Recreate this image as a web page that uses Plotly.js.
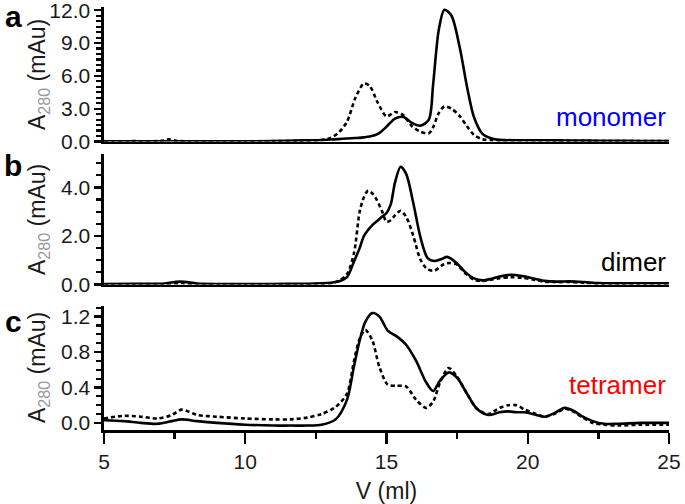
<!DOCTYPE html>
<html>
<head>
<meta charset="utf-8">
<script src="https://cdn.plot.ly/plotly-3.0.1.min.js"></script>
<style>html,body{margin:0;padding:0;background:#fff;}#chart{width:685px;height:504px;}</style>
</head>
<body>
<div id="chart"></div>
<script>
// ---------- data (V in ml, A280 in mAu) ----------
const vA = [5, 6, 7, 7.3, 7.6, 8, 9, 10, 11, 12, 12.5, 13, 13.3, 13.6, 13.9, 14.2, 14.4, 14.7, 15.0, 15.3, 15.6, 15.9, 16.2, 16.5, 16.65, 16.85, 17.05, 17.3, 17.6, 17.85, 18.1, 18.4, 18.7, 19, 20, 21, 22, 23, 24, 25];
const monomerSolid = [0.02, 0.02, 0.02, 0.03, 0.02, 0.02, 0.02, 0.02, 0.03, 0.1, 0.12, 0.18, 0.22, 0.27, 0.32, 0.38, 0.45, 0.7, 1.35, 2.1, 2.25, 1.7, 1.45, 2.0, 5.2, 10.2, 12.05, 11.5, 8.5, 5.0, 2.2, 0.7, 0.3, 0.15, 0.12, 0.1, 0.08, 0.06, 0.05, 0.05];
const monomerDotted = [0.02, 0.03, 0.05, 0.2, 0.05, 0.02, 0.02, 0.02, 0.03, 0.05, 0.1, 0.3, 0.8, 1.8, 4.0, 5.3, 5.1, 3.5, 2.3, 2.7, 2.4, 1.4, 0.9, 0.75, 1.3, 2.6, 3.2, 3.0, 2.3, 1.4, 0.6, 0.2, 0.12, 0.1, 0.1, 0.08, 0.06, 0.04, 0.03, 0.03];

const vB = [5, 6, 7, 7.7, 8.3, 9, 10, 11, 12, 12.5, 13, 13.3, 13.6, 13.85, 14.05, 14.2, 14.35, 14.5, 14.65, 14.85, 15.0, 15.15, 15.3, 15.5, 15.7, 15.95, 16.2, 16.45, 16.7, 16.95, 17.15, 17.45, 17.8, 18.1, 18.4, 18.7, 19.0, 19.4, 19.8, 20.2, 20.6, 21, 21.5, 22, 22.5, 23, 24, 25];
const dimerSolid = [0.02, 0.03, 0.03, 0.12, 0.04, 0.02, 0.02, 0.02, 0.03, 0.04, 0.07, 0.12, 0.3, 0.95, 1.5, 2.0, 2.25, 2.45, 2.6, 2.8, 2.95, 3.3, 4.2, 4.85, 4.55, 3.35, 1.95, 1.1, 0.97, 1.05, 1.14, 0.92, 0.5, 0.25, 0.17, 0.23, 0.33, 0.4, 0.35, 0.25, 0.15, 0.12, 0.13, 0.1, 0.06, 0.05, 0.05, 0.05];
const dimerDotted = [0.0, 0.0, 0.0, 0.05, 0.0, -0.01, -0.01, 0.0, 0.0, 0.02, 0.05, 0.15, 0.42, 1.3, 3.0, 3.6, 3.87, 3.75, 3.5, 3.0, 2.58, 2.65, 2.85, 3.04, 2.78, 2.0, 1.03, 0.63, 0.57, 0.78, 0.88, 0.85, 0.45, 0.2, 0.15, 0.2, 0.26, 0.3, 0.28, 0.2, 0.12, 0.1, 0.1, 0.07, 0.03, 0.0, -0.01, -0.01];

const vC = [5, 5.7, 6.3, 6.9, 7.4, 7.75, 8.3, 9, 10, 11, 11.6, 12.2, 12.7, 13.2, 13.6, 13.85, 14.05, 14.25, 14.5, 14.75, 15.05, 15.35, 15.7, 16.05, 16.4, 16.65, 16.9, 17.2, 17.5, 17.85, 18.2, 18.6, 19.0, 19.3, 19.6, 19.9, 20.3, 20.6, 21.0, 21.3, 21.6, 21.9, 22.3, 22.7, 23.2, 24, 25];
const tetramerSolid = [0.03, 0.02, 0.0, -0.01, 0.02, 0.04, 0.02, 0.0, -0.02, -0.03, -0.03, -0.03, -0.02, 0.04, 0.26, 0.64, 0.93, 1.14, 1.24, 1.2, 1.04, 0.98, 0.88, 0.7, 0.46, 0.36, 0.48, 0.57, 0.51, 0.33, 0.16, 0.09, 0.12, 0.13, 0.12, 0.12, 0.09, 0.07, 0.12, 0.17, 0.14, 0.08, 0.02, -0.01, -0.01, 0.0, 0.0];
const tetramerDotted = [0.05, 0.08, 0.07, 0.05, 0.09, 0.15, 0.09, 0.07, 0.05, 0.04, 0.04, 0.06, 0.1, 0.18, 0.33, 0.7, 0.95, 1.05, 0.93, 0.63, 0.43, 0.42, 0.41, 0.26, 0.17, 0.24, 0.46, 0.62, 0.52, 0.33, 0.16, 0.1, 0.17, 0.2, 0.2, 0.15, 0.1, 0.07, 0.11, 0.16, 0.13, 0.07, 0.0, -0.02, -0.03, -0.02, -0.02];

const panelLabels = ["a", "b", "c"];
const seriesNames = ["monomer", "dimer", "tetramer"];
const seriesColors = ["#0000ff", "#000000", "#ff0000"];
const xTickVals = [5, 10, 15, 20, 25];
const yTitle = 'A<sub><span style="color:#9a9a9a">280</span></sub> (mAu)';

// ---------- layout geometry ----------
const W = 685, H = 504;
const L = 104, R = 16;
const pw = W - L - R;
const fy = p => 1 - p / H;          // pixel row -> paper y
const fx = p => (p - L) / pw;       // pixel col -> paper x

const FONT = "Liberation Sans, Arial, sans-serif";
const INK = "#1a1a1a";

function line(x, y, dotted, xa, ya) {
  return {
    x: x, y: y, xaxis: xa, yaxis: ya, type: "scatter", mode: "lines",
    line: {color: "#000", width: 2.6, shape: "spline", smoothing: 0.8, dash: dotted ? "4px,3px" : "solid"},
    showlegend: false, hoverinfo: "skip"
  };
}

const traces = [
  line(vA, monomerDotted, true, "x", "y"),
  line(vA, monomerSolid, false, "x", "y"),
  line(vB, dimerDotted, true, "x2", "y2"),
  line(vB, dimerSolid, false, "x2", "y2"),
  line(vC, tetramerDotted, true, "x3", "y3"),
  line(vC, tetramerSolid, false, "x3", "y3")
];

const axisCommon = {
  showline: true, linecolor: "#000", linewidth: 2.6, showgrid: false, zeroline: false,
  ticks: "outside", tickcolor: "#000", tickwidth: 2.4, ticklabeloverflow: "allow",
  tickfont: {family: FONT, size: 21, color: INK}, fixedrange: true
};

function xAx(anchor, showLabels) {
  const ax = Object.assign({}, axisCommon, {
    anchor: anchor, range: [5, 25], domain: [0, 1],
    showticklabels: showLabels
  });
  if (showLabels) {
    ax.tickvals = xTickVals;
    ax.ticklen = 11;
    ax.minor = {dtick: 2.5, tick0: 5, ticklen: 6, tickwidth: 2.4, tickcolor: "#000", ticks: "outside"};
  } else {
    ax.ticks = "";
  }
  return ax;
}

function yAx(anchor, domain, range, dtick, minorDtick) {
  return Object.assign({}, axisCommon, {
    anchor: anchor, domain: domain, range: range,
    tick0: 0, dtick: dtick, tickformat: ".1f", ticklen: 7,
    minor: {dtick: minorDtick, tick0: 0, ticklen: 5, tickwidth: 2.2, tickcolor: "#000", ticks: "outside"}
  });
}

const layout = {
  width: W, height: H,
  margin: {l: L, r: R, t: 0, b: 0, pad: 0},
  paper_bgcolor: "#fff", plot_bgcolor: "#fff",
  font: {family: FONT, color: INK},
  showlegend: false,
  xaxis: xAx("y", false),
  xaxis2: xAx("y2", false),
  xaxis3: Object.assign(xAx("y3", true), {
    title: {text: "V (ml)", font: {family: FONT, size: 23, color: INK}, standoff: 12}
  }),
  yaxis: yAx("x", [fy(141.5), fy(7)], [0, 12.3], 3, 0.5),
  yaxis2: yAx("x2", [fy(284.5), fy(153.5)], [0, 5.4], 2, 0.5),
  yaxis3: yAx("x3", [fy(430), fy(306)], [-0.08, 1.32], 0.4, 0.1),
  annotations: []
};

const titleY = [75, 220, 368];
const labelY = [16, 166, 321];
const seriesY = [117, 262, 385];
for (let i = 0; i < 3; i++) {
  layout.annotations.push({
    xref: "paper", yref: "paper", x: fx(38), y: fy(titleY[i]), xanchor: "center", yanchor: "middle",
    text: yTitle, textangle: -90, showarrow: false, font: {family: FONT, size: 23, color: INK}
  });
  layout.annotations.push({
    xref: "paper", yref: "paper", x: fx(13), y: fy(labelY[i]), xanchor: "center", yanchor: "middle",
    text: "<b>" + panelLabels[i] + "</b>", showarrow: false, font: {family: FONT, size: 30, color: "#000"}
  });
  layout.annotations.push({
    xref: "paper", yref: "paper", x: fx(668), y: fy(seriesY[i]), xanchor: "right", yanchor: "middle",
    text: seriesNames[i], showarrow: false, font: {family: FONT, size: 26, color: seriesColors[i]}
  });
}

Plotly.newPlot("chart", traces, layout, {staticPlot: true, displayModeBar: false});
</script>
</body>
</html>
